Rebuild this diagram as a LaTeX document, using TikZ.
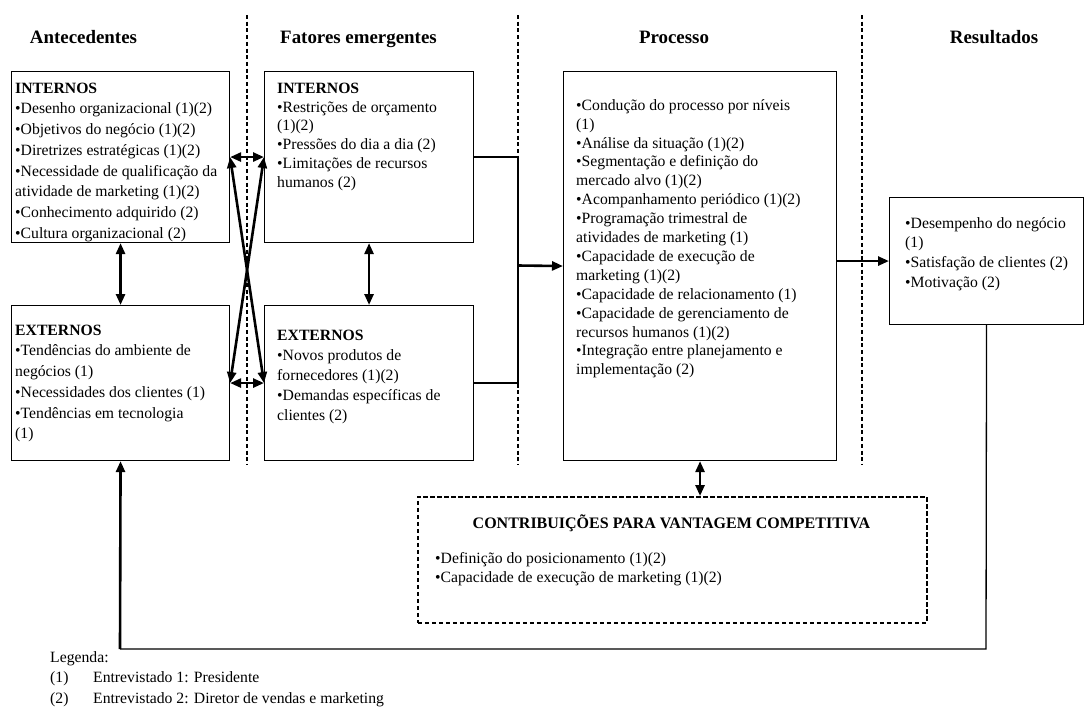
\documentclass[tikz,border=0pt]{standalone}
\usepackage{fontspec}
\setmainfont{Liberation Serif}
\usetikzlibrary{arrows.meta}
\newcommand\fs{\rule{0pt}{16pt}}
\begin{document}
\begin{tikzpicture}[x=1pt,y=-1pt,
  >={Triangle[length=11pt,width=9pt]},
  box/.style={draw, line width=1.1pt, rectangle, inner sep=0pt, anchor=north west},
  txt/.style={anchor=north west, inner sep=0pt, align=left},
  head/.style={anchor=base, inner sep=0pt, font=\fontsize{18.9}{22}\selectfont\bfseries},
  conn/.style={line width=2.6pt},
  sepline/.style={line width=1.4pt, dash pattern=on 4pt off 2.7pt},
  fbline/.style={line width=1.3pt},
  cbox/.style={draw, line width=1.7pt, dash pattern=on 4.5pt off 2.5pt, rectangle, inner sep=0pt, anchor=north west}
]
\useasboundingbox[fill=white] (0,0) rectangle (1086,707);

% column separators
\coordinate (s1t) at (247,15); \coordinate (s1b) at (247,464);
\coordinate (s2t) at (518,15); \coordinate (s2b) at (518,464);
\coordinate (s3t) at (862,15); \coordinate (s3b) at (862,464);
\draw[sepline] (s1t) -- (s1b);
\draw[sepline] (s2t) -- (s2b);
\draw[sepline] (s3t) -- (s3b);

% headings
\node[head] (h1) at (83.5,43) {Antecedentes};
\node[head] (h2) at (358.5,43) {Fatores emergentes};
\node[head] (h3) at (674,43) {Processo};
\node[head] (h4) at (994,43) {Resultados};

% boxes
\node[box, minimum width=218pt, minimum height=171pt] (a1) at (11,71) {};
\node[box, minimum width=218pt, minimum height=155pt] (a2) at (11,305) {};
\node[box, minimum width=209pt, minimum height=171pt] (f1) at (264,71) {};
\node[box, minimum width=209pt, minimum height=155pt] (f2) at (264,305) {};
\node[box, minimum width=273pt, minimum height=389pt] (p) at (563,71) {};
\node[box, minimum width=194pt, minimum height=127pt] (r) at (889,197) {};
\node[cbox, minimum width=509pt, minimum height=126pt] (cb) at (417,496) {};

% texts
\node[txt, font=\fontsize{15.7}{20.7}\selectfont] (ta1) at (15,77) {\fs\textbf{INTERNOS}\\
•Desenho organizacional (1)(2)\\
•Objetivos do negócio (1)(2)\\
•Diretrizes estratégicas (1)(2)\\
•Necessidade de qualificação da\\
atividade de marketing (1)(2)\\
•Conhecimento adquirido (2)\\
•Cultura organizacional (2)};

\node[txt, font=\fontsize{15.7}{20.7}\selectfont] (ta2) at (15,319) {\fs\textbf{EXTERNOS}\\
•Tendências do ambiente de\\
negócios (1)\\
•Necessidades dos clientes (1)\\
•Tendências em tecnologia\\
(1)};

\node[txt, font=\fontsize{15.7}{18.8}\selectfont] (tf1) at (277,77) {\fs\textbf{INTERNOS}\\
•Restrições de orçamento\\
(1)(2)\\
•Pressões do dia a dia (2)\\
•Limitações de recursos\\
humanos (2)};

\node[txt, font=\fontsize{15.7}{20}\selectfont] (tf2) at (277,324) {\fs\textbf{EXTERNOS}\\
•Novos produtos de\\
fornecedores (1)(2)\\
•Demandas específicas de\\
clientes (2)};

\node[txt, font=\fontsize{15.7}{18.9}\selectfont] (tp) at (576,94) {\fs•Condução do processo por níveis\\
(1)\\
•Análise da situação (1)(2)\\
•Segmentação e definição do\\
mercado alvo (1)(2)\\
•Acompanhamento periódico (1)(2)\\
•Programação trimestral de\\
atividades de marketing (1)\\
•Capacidade de execução de\\
marketing (1)(2)\\
•Capacidade de relacionamento (1)\\
•Capacidade de gerenciamento de\\
recursos humanos (1)(2)\\
•Integração entre planejamento e\\
implementação (2)};

\node[txt, font=\fontsize{15.7}{19.6}\selectfont] (tr) at (905,212) {\fs•Desempenho do negócio\\
(1)\\
•Satisfação de clientes (2)\\
•Motivação (2)};

\node[anchor=base, inner sep=0pt, font=\fontsize{16}{19}\selectfont\bfseries] (tcb) at (671.5,528) {CONTRIBUIÇÕES PARA VANTAGEM COMPETITIVA};
\node[txt, font=\fontsize{15.7}{19}\selectfont] (tcb2) at (435,547) {\fs•Definição do posicionamento (1)(2)\\
•Capacidade de execução de marketing (1)(2)};

% legend
\node[txt, font=\fontsize{15.7}{20.5}\selectfont] (leg) at (50,646) {\fs Legenda:\\
\makebox[43pt][l]{(1)}Entrevistado 1: Presidente\\
\makebox[43pt][l]{(2)}Entrevistado 2: Diretor de vendas e marketing};

% connectors
\draw[conn,<->] (a1.east) -- (f1.west);
\draw[conn,<->] (a2.east) -- (f2.west);
\draw[conn,<->] (a1.east) -- (f2.west);
\draw[conn,<->] (f1.west) -- (a2.east);
\draw[conn,<->] (a1.south) -- (a2.north);
\draw[conn,<->] (f1.south) -- (f2.north);
\coordinate (bus) at (518,265.5);
\draw[conn] (f1.east) -| (bus) |- (f2.east);
\draw[conn,->] (bus) -- (p.west);
\draw[conn,->] (p.east |- r.west) -- (r.west);
\draw[conn,<->] (p.south) -- (p.south |- cb.north);
\coordinate (fb) at (986,649);
\coordinate (fbl) at (120,649);
\draw[fbline] (r.south) -- (fb) -- (fbl);
\draw[conn,->] (fbl) -- (a2.south);
\end{tikzpicture}
\end{document}
